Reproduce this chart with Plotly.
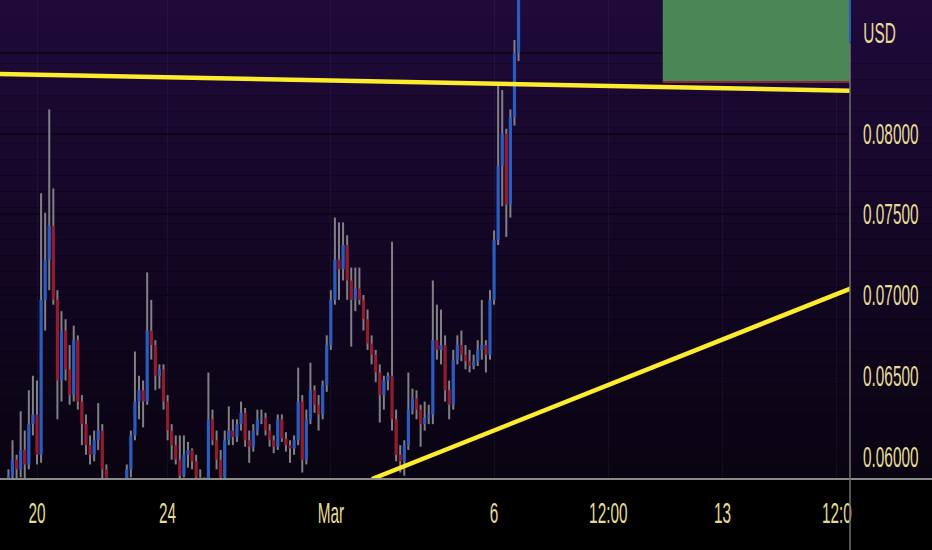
import pandas as pd
import plotly.graph_objects as go

# 3h candles
open_ = [0.0582, 0.0588, 0.0598, 0.0592, 0.0604, 0.0595, 0.0620, 0.0626, 0.0601, 0.0697,
         0.0722, 0.0743, 0.0697, 0.0647, 0.0678, 0.0654, 0.0638, 0.0672, 0.0634, 0.0620,
         0.0607, 0.0601, 0.0610, 0.0616, 0.0592, 0.0579, 0.0576, 0.0573, 0.0579, 0.0582,
         0.0592, 0.0613, 0.0634, 0.0641, 0.0634, 0.0678, 0.0669, 0.0650, 0.0654, 0.0634,
         0.0616, 0.0607, 0.0598, 0.0588, 0.0601, 0.0604, 0.0597, 0.0587, 0.0579, 0.0582,
         0.0623, 0.0610, 0.0598, 0.0587, 0.0610, 0.0616, 0.0612, 0.0620, 0.0627, 0.0610,
         0.0606, 0.0616, 0.0623, 0.0624, 0.0616, 0.0610, 0.0606, 0.0623, 0.0611, 0.0607,
         0.0605, 0.0610, 0.0634, 0.0598, 0.0623, 0.0641, 0.0632, 0.0626, 0.0644, 0.0669,
         0.0697, 0.0722, 0.0716, 0.0731, 0.0709, 0.0697, 0.0704, 0.0697, 0.0685, 0.0670,
         0.0663, 0.0652, 0.0638, 0.0647, 0.0650, 0.0623, 0.0601, 0.0597, 0.0607, 0.0629,
         0.0636, 0.0629, 0.0620, 0.0624, 0.0626, 0.0672, 0.0666, 0.0669, 0.0641, 0.0632,
         0.0660, 0.0669, 0.0663, 0.0659, 0.0656, 0.0659, 0.0666, 0.0669, 0.0663, 0.0697,
         0.0734, 0.0780, 0.0800, 0.0756, 0.0810, 0.0850, 0.0900]
high = [0.0592, 0.0610, 0.0601, 0.0628, 0.0616, 0.0641, 0.0650, 0.0647, 0.0763, 0.0751,
        0.0815, 0.0766, 0.0703, 0.0690, 0.0685, 0.0669, 0.0681, 0.0675, 0.0638, 0.0626,
        0.0613, 0.0616, 0.0633, 0.0620, 0.0595, 0.0584, 0.0582, 0.0584, 0.0584, 0.0595,
        0.0616, 0.0665, 0.0650, 0.0647, 0.0714, 0.0697, 0.0672, 0.0657, 0.0657, 0.0638,
        0.0620, 0.0613, 0.0613, 0.0613, 0.0609, 0.0605, 0.0601, 0.0592, 0.0587, 0.0652,
        0.0629, 0.0616, 0.0604, 0.0616, 0.0631, 0.0623, 0.0623, 0.0634, 0.0630, 0.0616,
        0.0620, 0.0629, 0.0629, 0.0627, 0.0620, 0.0613, 0.0626, 0.0626, 0.0615, 0.0610,
        0.0613, 0.0655, 0.0638, 0.0629, 0.0658, 0.0644, 0.0638, 0.0647, 0.0675, 0.0703,
        0.0748, 0.0745, 0.0745, 0.0737, 0.0717, 0.0717, 0.0717, 0.0700, 0.0691, 0.0675,
        0.0666, 0.0657, 0.0650, 0.0652, 0.0733, 0.0629, 0.0607, 0.0610, 0.0652, 0.0642,
        0.0641, 0.0632, 0.0634, 0.0632, 0.0709, 0.0694, 0.0691, 0.0675, 0.0647, 0.0666,
        0.0675, 0.0678, 0.0669, 0.0666, 0.0663, 0.0672, 0.0697, 0.0672, 0.0703, 0.0740,
        0.0830, 0.0827, 0.0803, 0.0815, 0.0858, 0.0930, 0.0960]
low = [0.0576, 0.0579, 0.0582, 0.0587, 0.0585, 0.0592, 0.0613, 0.0595, 0.0596, 0.0678,
       0.0703, 0.0694, 0.0623, 0.0634, 0.0647, 0.0632, 0.0634, 0.0629, 0.0607, 0.0601,
       0.0595, 0.0597, 0.0604, 0.0585, 0.0573, 0.0567, 0.0564, 0.0567, 0.0573, 0.0576,
       0.0587, 0.0610, 0.0623, 0.0618, 0.0632, 0.0660, 0.0641, 0.0642, 0.0629, 0.0610,
       0.0598, 0.0595, 0.0582, 0.0587, 0.0593, 0.0592, 0.0582, 0.0573, 0.0573, 0.0579,
       0.0607, 0.0592, 0.0579, 0.0584, 0.0607, 0.0607, 0.0609, 0.0616, 0.0606, 0.0596,
       0.0603, 0.0613, 0.0620, 0.0613, 0.0606, 0.0602, 0.0604, 0.0609, 0.0603, 0.0596,
       0.0601, 0.0607, 0.0590, 0.0595, 0.0620, 0.0627, 0.0616, 0.0623, 0.0640, 0.0666,
       0.0694, 0.0697, 0.0709, 0.0697, 0.0668, 0.0690, 0.0694, 0.0678, 0.0666, 0.0657,
       0.0646, 0.0621, 0.0629, 0.0641, 0.0616, 0.0597, 0.0590, 0.0588, 0.0604, 0.0626,
       0.0623, 0.0606, 0.0616, 0.0620, 0.0620, 0.0660, 0.0657, 0.0634, 0.0623, 0.0629,
       0.0657, 0.0659, 0.0654, 0.0652, 0.0654, 0.0656, 0.0660, 0.0652, 0.0660, 0.0694,
       0.0731, 0.0755, 0.0736, 0.0748, 0.0805, 0.0845, 0.0890]
close = [0.0588, 0.0598, 0.0592, 0.0604, 0.0595, 0.0620, 0.0626, 0.0601, 0.0697, 0.0722,
         0.0743, 0.0697, 0.0647, 0.0678, 0.0654, 0.0638, 0.0672, 0.0634, 0.0620, 0.0607,
         0.0601, 0.0610, 0.0616, 0.0592, 0.0579, 0.0576, 0.0573, 0.0579, 0.0582, 0.0592,
         0.0613, 0.0634, 0.0641, 0.0634, 0.0678, 0.0669, 0.0650, 0.0654, 0.0634, 0.0616,
         0.0607, 0.0598, 0.0588, 0.0601, 0.0604, 0.0597, 0.0587, 0.0579, 0.0582, 0.0623,
         0.0610, 0.0598, 0.0587, 0.0610, 0.0616, 0.0612, 0.0620, 0.0627, 0.0610, 0.0606,
         0.0616, 0.0623, 0.0624, 0.0616, 0.0610, 0.0606, 0.0623, 0.0611, 0.0607, 0.0605,
         0.0610, 0.0634, 0.0598, 0.0623, 0.0641, 0.0632, 0.0626, 0.0644, 0.0669, 0.0697,
         0.0722, 0.0716, 0.0731, 0.0709, 0.0697, 0.0704, 0.0697, 0.0685, 0.0670, 0.0663,
         0.0652, 0.0638, 0.0647, 0.0650, 0.0623, 0.0601, 0.0597, 0.0607, 0.0629, 0.0636,
         0.0629, 0.0620, 0.0624, 0.0626, 0.0672, 0.0666, 0.0669, 0.0641, 0.0632, 0.0660,
         0.0669, 0.0663, 0.0659, 0.0656, 0.0659, 0.0666, 0.0669, 0.0663, 0.0697, 0.0734,
         0.0780, 0.0800, 0.0756, 0.0810, 0.0850, 0.0900, 0.0940]
dates = pd.date_range("2021-02-19 03:00", periods=len(close), freq="3h")

# drawn trend lines and the position box
resist_x = ["2021-02-18 20:00", "2021-03-17 00:00"]
resist_y = [0.08370, 0.08266]
support_x = ["2021-03-02 06:15", "2021-03-16 22:00"]
support_y = [0.05860, 0.07040]
box_start = "2021-03-11 04:00"
box_entry = 0.08326

tick_dates = ["2021-02-20", "2021-02-24", "2021-03-01", "2021-03-06",
              "2021-03-09 12:00", "2021-03-13", "2021-03-16 12:00"]
tick_text = ["20", "24", "Mar", "6", "12:00", "13", "12:0"]
price_ticks = [0.060, 0.065, 0.070, 0.075, 0.080, 0.085]
price_text = ["0.06000", "0.06500", "0.07000", "0.07500", "0.08000", ""]

FONT = "Liberation Sans, Arial, sans-serif"
LABEL = "#e4dc96"
UP, DOWN, WICK = "#2a5cc0", "#931b2e", "#808085"

wick_x, wick_y = [], []
for t, h, l in zip(dates, high, low):
    wick_x += [t, t, None]
    wick_y += [l, h, None]

up_x, up_y, dn_x, dn_y = [], [], [], []
for t, o, c in zip(dates, open_, close):
    if c >= o:
        up_x += [t, t, None]
        up_y += [o, c, None]
    else:
        dn_x += [t, t, None]
        dn_y += [o, c, None]

fig = go.Figure()
fig.add_trace(go.Scatter(x=wick_x, y=wick_y, mode="lines",
                         line=dict(color=WICK, width=2), hoverinfo="skip"))
fig.add_trace(go.Scatter(x=up_x, y=up_y, mode="lines",
                         line=dict(color=UP, width=3.2), hoverinfo="skip"))
fig.add_trace(go.Scatter(x=dn_x, y=dn_y, mode="lines",
                         line=dict(color=DOWN, width=3.2), hoverinfo="skip"))
fig.add_trace(go.Scatter(x=resist_x, y=resist_y, mode="lines",
                         line=dict(color="#fdeb2e", width=4.5), hoverinfo="skip"))
fig.add_trace(go.Scatter(x=support_x, y=support_y, mode="lines",
                         line=dict(color="#fdeb2e", width=4.5), hoverinfo="skip"))

# purple to black gradient behind the chart
shapes = []
n = 30
for i in range(n):
    f = i / (n - 1)
    r = int(31 - 21 * f)
    g = int(10 - 6 * f)
    b = int(58 - 40 * f)
    shapes.append(dict(type="rect", xref="paper", yref="paper", layer="below",
                       x0=0, x1=1.1, y0=1 - (i + 1) / n, y1=1 - i / n,
                       fillcolor="rgb(%d,%d,%d)" % (r, g, b), line_width=0))
shapes.append(dict(type="rect", xref="x", yref="y", x0=box_start, x1="2021-03-18",
                   y0=box_entry, y1=0.095, fillcolor="#4b8656", line_width=0, layer="between"))
shapes.append(dict(type="rect", xref="x", yref="y", x0=box_start, x1="2021-03-18",
                   y0=box_entry - 0.00012, y1=box_entry, fillcolor="#8a2a35", line_width=0,
                   layer="between"))
# axis borders
shapes.append(dict(type="line", xref="paper", yref="paper", x0=0, x1=1.1, y0=0, y1=0,
                   line=dict(color="#8a8a8a", width=2)))
shapes.append(dict(type="line", xref="paper", yref="paper", x0=1, x1=1, y0=-0.16, y1=0.91,
                   line=dict(color="#707070", width=1.5)))
shapes.append(dict(type="line", xref="paper", yref="paper", x0=1, x1=1, y0=0.912, y1=1,
                   line=dict(color=UP, width=2)))

fig.update_layout(
    width=932, height=550,
    margin=dict(l=0, r=82, t=0, b=71),
    paper_bgcolor="#000000", plot_bgcolor="rgba(0,0,0,0)",
    showlegend=False,
    font=dict(family=FONT, size=29, color=LABEL),
    shapes=shapes,
    annotations=[dict(text="USD", xref="paper", yref="paper", x=1.0141, y=0.931,
                      xanchor="left", yanchor="middle", showarrow=False,
                      font=dict(family=FONT, size=29, color=LABEL))],
)
fig.update_xaxes(type="date", range=["2021-02-18 20:48", "2021-03-16 21:40"],
                 tickvals=tick_dates, ticktext=tick_text, showgrid=True,
                 gridcolor="rgba(130,110,170,0.10)", gridwidth=1, zeroline=False,
                 showline=False, ticks="", ticklabelstandoff=14, automargin=False,
                 tickfont=dict(family=FONT, size=29, color=LABEL))
fig.update_yaxes(side="right", range=[0.05860, 0.08828], tickvals=price_ticks,
                 ticktext=price_text, showgrid=True, gridcolor="#0b0614", gridwidth=2,
                 zeroline=False, showline=False, ticks="", ticklabelstandoff=12,
                 automargin=False, tickfont=dict(family=FONT, size=29, color=LABEL))

# the screenshot's labels are tall and narrow: squeeze them horizontally
post = """
document.body.style.margin = '0';
var gd = document.getElementById('{plot_id}');
function squeeze() {
  gd.querySelectorAll('g.xtick, g.ytick, g.annotation').forEach(function (g) {
    g.style.transformBox = 'fill-box';
    g.style.transformOrigin = g.classList.contains('xtick') ? 'center center' : 'left center';
    g.style.transform = 'scaleX(0.53)';
  });
}
squeeze();
gd.on('plotly_afterplot', squeeze);
"""
fig.write_html("out.html", post_script=post, config={"displayModeBar": False})
